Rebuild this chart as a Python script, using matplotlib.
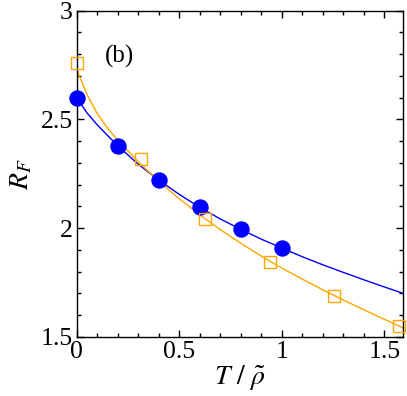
import matplotlib
matplotlib.use("Agg")
import matplotlib.pyplot as plt
from matplotlib.ticker import MultipleLocator

# ---- data ----
blue_x = [0.0, 0.2, 0.4, 0.6, 0.8, 1.0]
blue_y = [2.60, 2.379, 2.221, 2.095, 1.994, 1.908]

orange_x = [0.0, 0.312, 0.627, 0.943, 1.257, 1.574]
orange_y = [2.761, 2.318, 2.040, 1.845, 1.688, 1.550]

blue_curve_x = [0.0, 0.05, 0.1, 0.2, 0.3, 0.4, 0.5, 0.6, 0.7, 0.8, 0.9, 1.0,
                1.1, 1.2, 1.3, 1.4, 1.5, 1.6]
blue_curve_y = [2.600, 2.530, 2.475, 2.378, 2.294, 2.221, 2.155, 2.095, 2.042,
                1.994, 1.949, 1.908, 1.868, 1.831, 1.796, 1.762, 1.729, 1.697]

orange_curve_x = [0.0, 0.01, 0.02, 0.05, 0.1, 0.15, 0.2, 0.3, 0.4, 0.5, 0.6,
                  0.7, 0.8, 0.9, 1.0, 1.1, 1.2, 1.3, 1.4, 1.5, 1.6]
orange_curve_y = [2.734, 2.705, 2.684, 2.615, 2.527, 2.460, 2.405, 2.305,
                  2.216, 2.135, 2.061, 1.993, 1.930, 1.871, 1.816, 1.765,
                  1.716, 1.669, 1.624, 1.580, 1.537]

x_ticks = [0, 0.5, 1, 1.5]
x_tick_labels = ["0", "0.5", "1", "1.5"]
y_ticks = [1.5, 2, 2.5, 3]
y_tick_labels = ["1.5", "2", "2.5", "3"]

plt.rcParams["font.family"] = ["Liberation Serif", "DejaVu Serif"]
plt.rcParams["mathtext.fontset"] = "stix"

fig = plt.figure(figsize=(4.07, 3.96), dpi=100)
ax = fig.add_axes([76.7 / 407, (396 - 336.7) / 396, 326 / 407, 326 / 396])

blue = "#0000FF"
orange = "#FFA500"

ax.plot(blue_curve_x, blue_curve_y, color=blue, lw=1.0, zorder=2)
ax.plot(orange_curve_x, orange_curve_y, color=orange, lw=1.0, zorder=2)
ax.plot(blue_x, blue_y, "o", color=blue, ms=10.8, mec=blue, zorder=3,
        clip_on=False)
ax.plot(orange_x, orange_y, "s", mfc="none", mec=orange, ms=8.4, mew=1.0,
        zorder=4, clip_on=False)

ax.set_xlim(0, 1.59)
ax.set_ylim(1.5, 3)
ax.set_xticks(x_ticks)
ax.set_xticklabels(x_tick_labels)
ax.set_yticks(y_ticks)
ax.set_yticklabels(y_tick_labels)
ax.xaxis.set_minor_locator(MultipleLocator(0.1))
ax.yaxis.set_minor_locator(MultipleLocator(0.1))
ax.tick_params(which="both", direction="in", top=True, right=True, width=1.0)
ax.tick_params(which="major", length=5, labelsize=18.5, pad=3)
ax.tick_params(which="minor", length=2.8)
for s in ax.spines.values():
    s.set_linewidth(1.0)

ax.set_xlabel(r"$T\ /\ \tilde{\rho}$", fontsize=20, labelpad=0)
ax.set_ylabel(r"$R_F$", fontsize=20, labelpad=4)
ax.text(0.211, 2.79, "(b)", fontsize=18, ha="center", va="center")

fig.savefig("out.png", dpi=100)
